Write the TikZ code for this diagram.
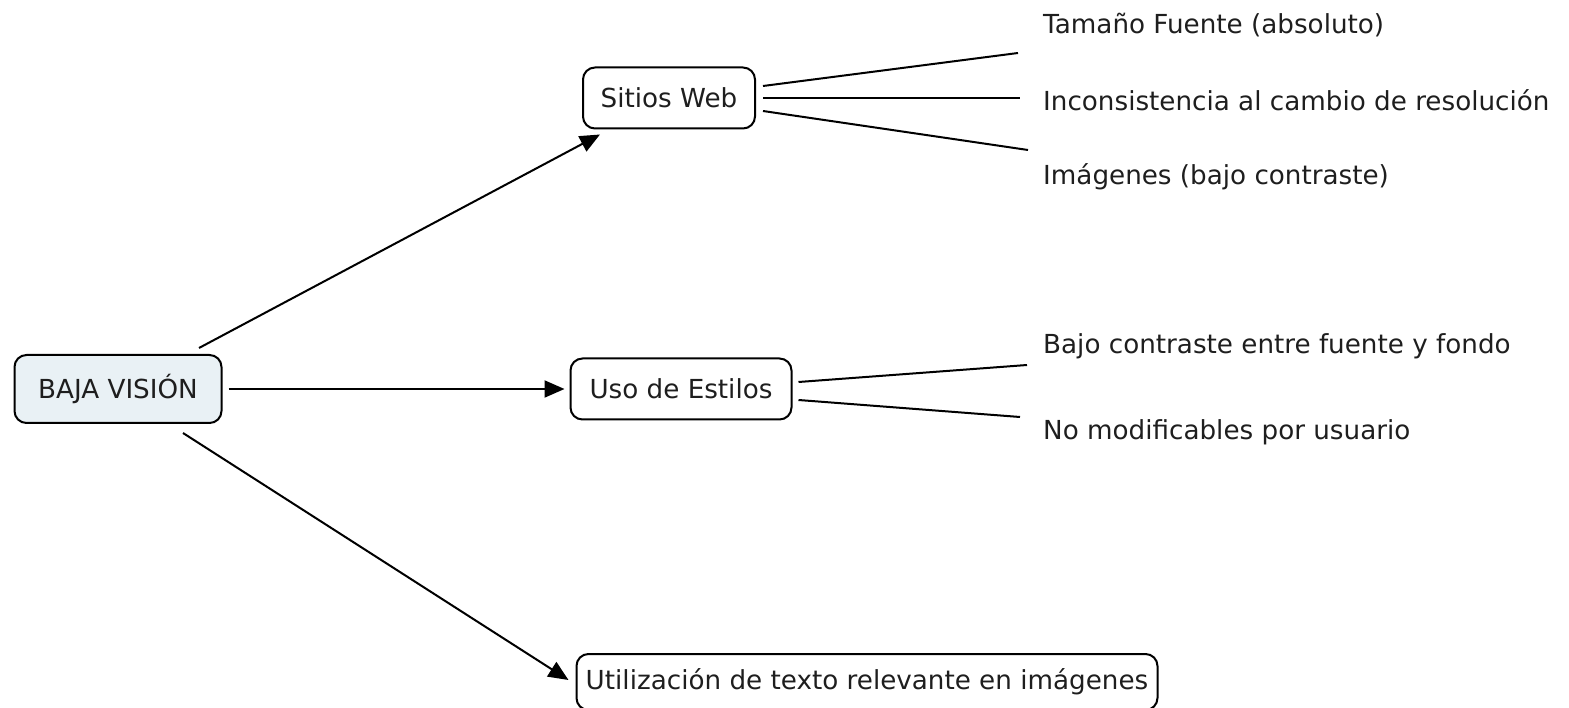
\documentclass[tikz,border=0pt]{standalone}
\usepackage{fontspec}
\setmainfont{DejaVu Sans}
\usetikzlibrary{arrows.meta}
\definecolor{rootfill}{RGB}{233,241,245}
\definecolor{inktext}{RGB}{30,30,30}
\begin{document}
\begin{tikzpicture}[x=1pt,y=-1pt,
    concept/.style={draw,line width=2pt,rounded corners=12pt,inner sep=0pt,text=inktext,font=\fontsize{26.2}{31}\selectfont},
    leaf/.style={anchor=west,inner xsep=20pt,inner ysep=0pt,text=inktext,font=\fontsize{26.2}{31}\selectfont},
    link/.style={line width=2pt,-{Triangle[length=20pt,width=17pt]}},
    edge/.style={line width=2pt}]
    \useasboundingbox (0,0) rectangle (1569,708);
    % concepts
    \node[concept,fill=rootfill,minimum width=207pt,minimum height=68pt] (root) at (118,389) {BAJA VISIÓN};
    \node[concept,minimum width=172pt,minimum height=61pt] (sitios) at (669,98) {Sitios Web};
    \node[concept,minimum width=221pt,minimum height=61pt] (estilos) at (681,389) {Uso de Estilos};
    \node[concept,minimum width=581pt,minimum height=56pt] (texto) at (867,682) {Utilización de texto relevante en imágenes};
    % leaves
    \node[leaf] (tamano) at (1023,25) {Tamaño Fuente (absoluto)};
    \node[leaf] (resol) at (1023,100) {Inconsistencia al cambio de resolución};
    \node[leaf] (imagenes) at (1023,177) {Imágenes (bajo contraste)};
    \node[leaf] (contraste) at (1023,346) {Bajo contraste entre fuente y fondo};
    \node[leaf] (usuario) at (1023,432) {No modificables por usuario};
    % arrows from root
    \draw[link] ([xshift=81pt,yshift=6pt]root.north) -- ([xshift=-69pt,yshift=-5pt]sitios.south);
    \draw[link] ([xshift=6pt]root.east) -- ([xshift=-5pt]estilos.west);
    \draw[link] ([xshift=65pt,yshift=-9pt]root.south) -- ([xshift=-7pt,yshift=2pt]texto.west);
    % lines to leaves
    \draw[edge] ([xshift=7pt,yshift=12pt]sitios.east) -- ([xshift=-5pt,yshift=-28pt]tamano.west);
    \draw[edge] ([xshift=7pt]sitios.east) -- ([xshift=-3pt,yshift=2pt]resol.west);
    \draw[edge] ([xshift=7pt,yshift=-13pt]sitios.east) -- ([xshift=5pt,yshift=27pt]imagenes.west);
    \draw[edge] ([xshift=6pt,yshift=7pt]estilos.east) -- ([xshift=4pt,yshift=-19pt]contraste.west);
    \draw[edge] ([xshift=6pt,yshift=-11pt]estilos.east) -- ([xshift=-3pt,yshift=15pt]usuario.west);
\end{tikzpicture}
\end{document}
